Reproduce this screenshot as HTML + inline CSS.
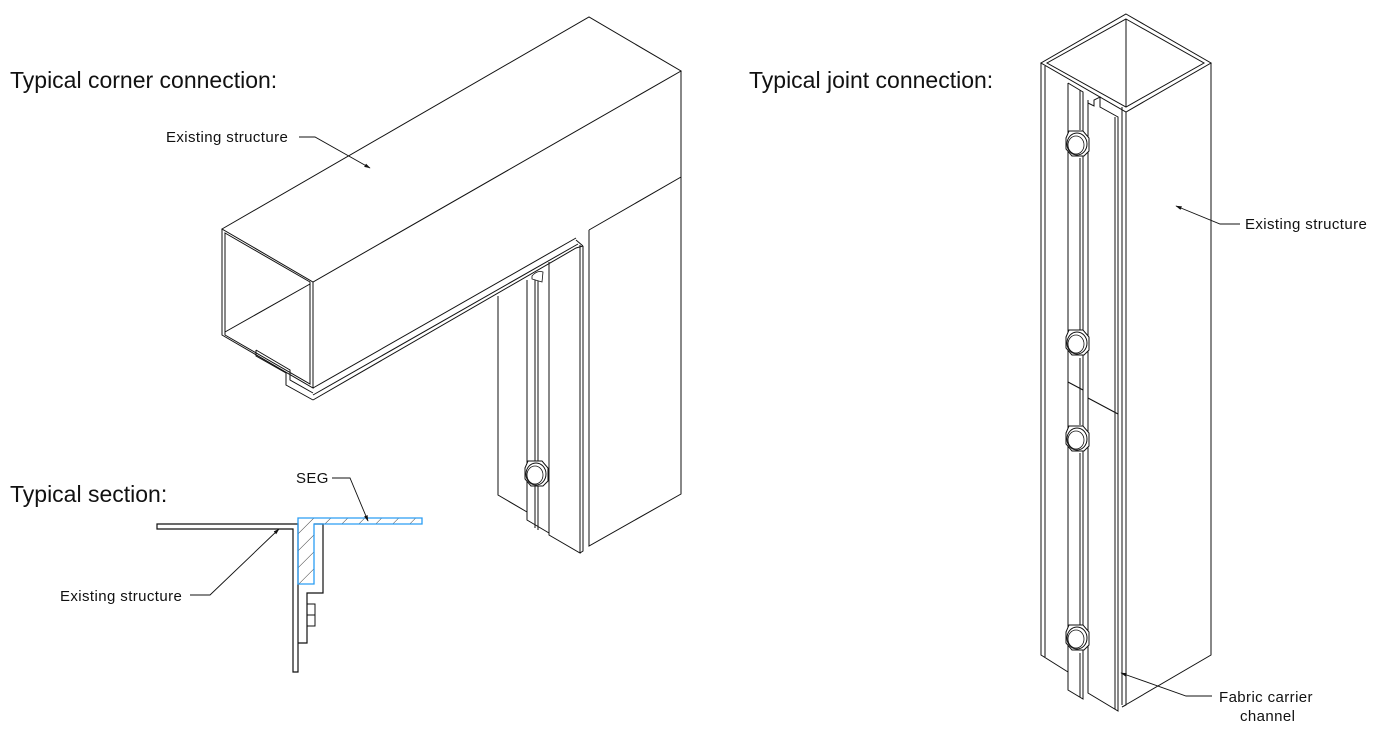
<!DOCTYPE html>
<html><head><meta charset="utf-8"><style>
html,body{margin:0;padding:0;background:#fff;}
svg{display:block;}
.h{font-family:"Liberation Sans",Arial,sans-serif;font-size:23px;fill:#111;}
.l{font-family:"Liberation Sans",Arial,sans-serif;font-size:15px;letter-spacing:0.4px;fill:#111;}
</style></head><body>
<svg width="1379" height="730" viewBox="0 0 1379 730" xmlns="http://www.w3.org/2000/svg">
<defs>
<g id="bolt">
<path d="M-9,-12 L5,-12 L11,-5 L11,8 L6,13 L-6,13 L-12,6 L-12,-5 Z" fill="#fff" stroke="#111" stroke-width="1"/>
<ellipse cx="-1" cy="1" rx="10" ry="11" fill="none" stroke="#111" stroke-width="1"/>
<ellipse cx="-2" cy="2" rx="8" ry="9" fill="none" stroke="#111" stroke-width="0.8"/>
</g>
<marker id="ar" viewBox="0 0 10 10" refX="9" refY="5" markerWidth="7" markerHeight="7" orient="auto"><path d="M0,2 L10,5 L0,8 Z" fill="#111"/></marker>
<pattern id="hatch" patternUnits="userSpaceOnUse" width="12" height="12" patternTransform="rotate(45)"><line x1="0" y1="0" x2="0" y2="12" stroke="#111" stroke-width="0.8"/></pattern>
</defs>

<text class="h" x="10" y="88">Typical corner connection:</text>
<text class="h" x="749" y="88">Typical joint connection:</text>
<text class="h" x="10" y="502">Typical section:</text>

<g fill="none" stroke="#111" stroke-width="1">
<path d="M589,230 L589,546 L681,494 L681,177" />
<path d="M498,296 L498,495 L527,512"/>
<path d="M527,280 L527,512 L527,520 L549,533"/>
<path d="M535,276 L535,470"/><path d="M538,276 L538,470"/>
<path d="M535,486 L535,528"/><path d="M538,486 L538,530"/>
<path d="M549,262 L549,535 L580,553 L580,245"/>
<path d="M583,246 L583,551 L580,553"/>
<path d="M576,240 L583,246"/>
<path d="M313,388 L576,238"/>
<path d="M313,395 L578,244"/>
<path d="M313,400 L576,248 L583,246"/>
<path d="M256,350 L256,356 L286,373 L286,385 L313,400"/>
<path d="M256,350 L290,370 L290,380 L313,393"/>
<path d="M222,229 L589,17 L681,71 L313,282 Z"/>
<path d="M313,282 L313,388 L222,335 L222,229"/>
<path d="M681,71 L681,177 L589,230"/>
<path d="M225,233 L310,282 L310,384 L225,335 Z"/>
<path d="M225,332 L310,284"/>
</g>
<use href="#bolt" x="537" y="473"/>
<path d="M532,276 Q537,270 543,272 L542,282 L532,279 Z" fill="#fff" stroke="#111" stroke-width="0.8"/>

<text class="l" x="166" y="142">Existing structure</text>
<path d="M299,137 L315,137 L370,168" fill="none" stroke="#111" stroke-width="0.9" marker-end="url(#ar)"/>

<path d="M157,524 L298,524 L298,672 L293,672 L293,529 L157,529 Z" fill="none" stroke="#111" stroke-width="1.2"/>
<path d="M314,524 L323,524 L323,593 L307,593 L307,643 L298,643" fill="none" stroke="#111" stroke-width="1.2"/>
<path d="M307,604 L315,604 L315,626 L307,626 M307,615 L315,615" fill="none" stroke="#111" stroke-width="1"/>
<path d="M298,518 L422,518 L422,524 L314,524 L314,584 L298,584 Z" fill="url(#hatch)" stroke="#2a9df4" stroke-width="1.3"/>
<text class="l" x="296" y="483">SEG</text>
<path d="M332,478 L350,478 L368,521" fill="none" stroke="#111" stroke-width="0.9" marker-end="url(#ar)"/>
<text class="l" x="60" y="601">Existing structure</text>
<path d="M190,595 L210,595 L279,529" fill="none" stroke="#111" stroke-width="0.9" marker-end="url(#ar)"/>

<g fill="none" stroke="#111" stroke-width="1">
<path d="M1126,14 L1211,63 L1126,112 L1041,63 Z"/>
<path d="M1126,19 L1204,63 L1126,107 L1047,63 Z"/>
<path d="M1126,19 L1126,107"/>
<path d="M1041,63 L1041,655 L1068,672"/>
<path d="M1045,66 L1045,657"/>
<path d="M1126,112 L1126,705 L1122,707 L1211,655 L1211,63"/>
<path d="M1122,107 L1122,705"/>
<path d="M1068,83 L1068,690 L1083,699 L1083,92 L1068,83"/>
<path d="M1080,90 L1080,130 M1080,158 L1080,330 M1080,358 L1080,425 M1080,453 L1080,625 M1080,653 L1080,697"/>
<path d="M1068,382 L1083,390"/>
<path d="M1088,100 L1088,693 L1118,711 L1118,117 L1100,107 L1100,97 L1094,100 L1094,106 L1088,103"/>
<path d="M1115,117 L1115,709"/>
<path d="M1088,398 L1118,414"/>
</g>
<use href="#bolt" x="1078" y="143"/>
<use href="#bolt" x="1078" y="342"/>
<use href="#bolt" x="1078" y="438"/>
<use href="#bolt" x="1078" y="637"/>

<text class="l" x="1245" y="229">Existing structure</text>
<path d="M1240,224 L1220,224 L1176,206" fill="none" stroke="#111" stroke-width="0.9" marker-end="url(#ar)"/>
<text class="l" x="1219" y="702">Fabric carrier</text>
<text class="l" x="1240" y="721">channel</text>
<path d="M1212,696 L1186,696 L1121,673" fill="none" stroke="#111" stroke-width="0.9" marker-end="url(#ar)"/>
</svg>
</body></html>
